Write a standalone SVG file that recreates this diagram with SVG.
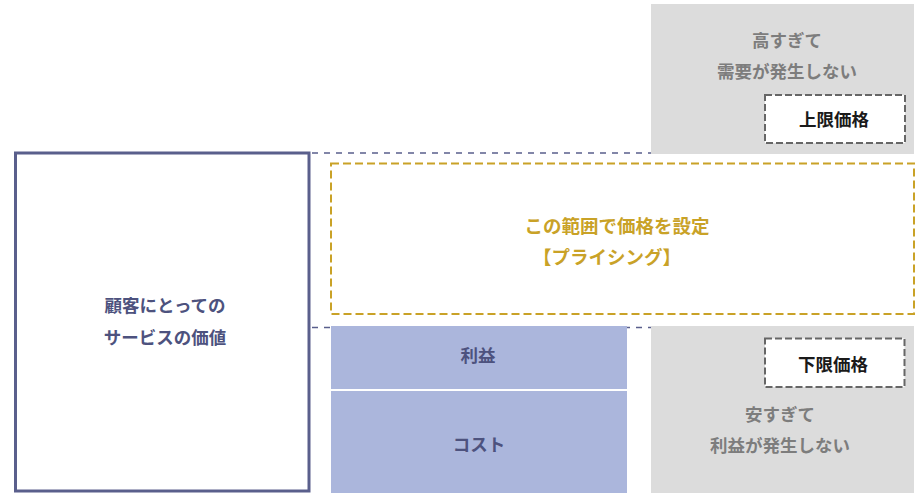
<svg xmlns="http://www.w3.org/2000/svg" width="920" height="500" viewBox="0 0 920 500">
<style>
text{font-family:"Noto Sans CJK JP","Noto Sans",sans-serif;font-weight:bold;font-size:17.5px;text-anchor:middle}
.gray{fill:#dcdcdc}
.gtxt{fill:#7d7d7d}
.lim{fill:#ffffff;stroke:#666666;stroke-width:2;stroke-dasharray:7 3}
.ltxt{fill:#1a1a1a}
.pblk{fill:#abb6dc}
.ptxt{fill:#4d527e}
.gold{fill:#c9a227;font-size:18.5px}
.guide{stroke:#5a5f8c;stroke-width:1.5;stroke-dasharray:6 6;fill:none}
</style>
<rect width="920" height="500" fill="#ffffff"/>
<g id="connectors">
<line class="guide" x1="312" y1="153" x2="914" y2="153"/>
<line class="guide" x1="312" y1="327.5" x2="914" y2="327.5"/>
</g>
<g id="value">
<rect x="15.5" y="153" width="293.5" height="338" fill="#ffffff" stroke="#5a5f8c" stroke-width="3"/>
<text class="ptxt" x="165" y="312">顧客にとっての</text>
<text class="ptxt" x="165" y="344">サービスの価値</text>
</g>
<g id="high">
<rect class="gray" x="651" y="4" width="263" height="150"/>
<text class="gtxt" x="787" y="46.5">高すぎて</text>
<text class="gtxt" x="787" y="77.5">需要が発生しない</text>
</g>
<g id="upper-limit">
<rect class="lim" x="765" y="95" width="140" height="48"/>
<text class="ltxt" x="834" y="126">上限価格</text>
</g>
<g id="pricing">
<rect x="331" y="163.5" width="583" height="150.5" fill="#ffffff" stroke="#c9a227" stroke-width="2" stroke-dasharray="8 4"/>
<text class="gold" x="617" y="233">この範囲で価格を設定</text>
<text class="gold" x="607" y="264">【プライシング】</text>
</g>
<g id="profit">
<rect class="pblk" x="331" y="326" width="296" height="63"/>
<text class="ptxt" x="478" y="361.5">利益</text>
</g>
<g id="cost">
<rect class="pblk" x="331" y="391" width="296" height="102"/>
<text class="ptxt" x="479" y="450.5">コスト</text>
</g>
<g id="low">
<rect class="gray" x="651" y="326" width="263" height="167"/>
<text class="gtxt" x="780" y="420.5">安すぎて</text>
<text class="gtxt" x="780" y="451.5">利益が発生しない</text>
</g>
<g id="lower-limit">
<rect class="lim" x="765" y="338.5" width="139.5" height="48.5"/>
<text class="ltxt" x="833" y="371">下限価格</text>
</g>
</svg>
